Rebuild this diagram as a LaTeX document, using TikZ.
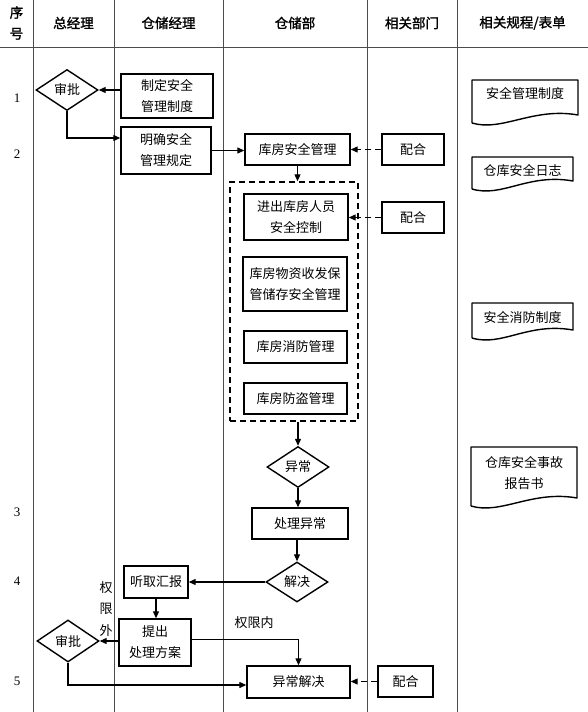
\documentclass[tikz,border=0pt]{standalone}
\usepackage{fontspec}
\setmainfont{Noto Sans CJK SC}
\newfontfamily\headfont[FakeBold=1.5]{Noto Sans CJK SC}
\newfontfamily\numfont{Liberation Serif}
\usetikzlibrary{shapes.geometric,arrows.meta,calc}

\begin{document}
\begin{tikzpicture}[x=1pt,y=-1pt,
	box/.style={draw, line width=1.4pt, align=center, inner sep=0pt, font=\fontsize{13}{21}\selectfont},
	dia/.style={draw, diamond, line width=1.4pt, inner sep=0pt, minimum width=62, minimum height=41, font=\fontsize{13}{15}\selectfont},
	arr/.style={line width=1.2pt, -{Triangle[length=7pt,width=6pt]}},
	darr/.style={arr, dash pattern=on 6pt off 4pt},
	col/.style={line width=0.8pt, black!70},
	head/.style={font=\headfont\fontsize{13.5}{21}\selectfont, align=center},
	lbl/.style={font=\fontsize{13}{21.5}\selectfont, align=center}]
					\useasboundingbox (0,0) rectangle (588,712);
					%columns
					\foreach \x in {33,114,223,367,457}
						\draw [col] (\x,0) -- (\x,712);
					\draw [col] (0,47) -- (588,47);
					
					%head
					\node [head] (hnum) at (16.5,23) {序\\号};
					\node [head] (hzjl) at (73.5,23) {总经理};
					\node [head] (hccjl) at (168.5,23) {仓储经理};
					\node [head] (hccb) at (295,23) {仓储部};
					\node [head] (hxgbm) at (412,23) {相关部门};
					\node [head] (hgc) at (522.5,23) {相关规程/表单};
					
					%row numbers
					\foreach \n/\y in {1/98,2/154,3/512,4/581,5/681}
						\node [font=\numfont\fontsize{13}{15}\selectfont] (r\n) at (17,\y) {\n};
					
					%1-2
					\node [dia] (shenpi1) at (67,90) {审批};
					\node [box, minimum width=92, minimum height=44] (zhiding) at (167,96) {制定安全\\管理制度};
					\node [box, minimum width=90, minimum height=47] (mingque) at (166,150.5) {明确安全\\管理规定};
					\node [box, minimum width=105, minimum height=31] (kufang) at (297.5,149.5) {库房安全管理};
					\node [box, minimum width=62, minimum height=31] (peihe1) at (413,149.5) {配合};
					
					%group
					\node [draw, dash pattern=on 6pt off 4pt, line width=1.5pt, minimum width=128, minimum height=239] (group) at (294,301.5) {};
					\node [box, minimum width=104, minimum height=46] (jinchu) at (296,217) {进出库房人员\\安全控制};
					\node [box, minimum width=62, minimum height=31] (peihe2) at (413,217.5) {配合};
					\node [box, minimum width=104, minimum height=54] (wuzi) at (295,284) {库房物资收发保\\管储存安全管理};
					\node [box, minimum width=103, minimum height=32] (xiaofang) at (295.5,347) {库房消防管理};
					\node [box, minimum width=103, minimum height=31] (fangdao) at (295.5,398.5) {库房防盗管理};
					
					%3-5
					\node [dia] (yichang) at (298,467) {异常};
					\node [box, minimum width=96, minimum height=31] (chuli) at (300,523.5) {处理异常};
					\node [dia, minimum height=40] (jiejue) at (297,582) {解决};
					\node [box, minimum width=64, minimum height=32] (tingqu) at (156,582) {听取汇报};
					\node [box, minimum width=72, minimum height=47] (tichu) at (155,642.5) {提出\\处理方案};
					\node [dia, minimum height=42] (shenpi2) at (68,641) {审批};
					\node [box, minimum width=103, minimum height=32] (yjjj) at (298.5,682) {异常解决};
					\node [box, minimum width=55, minimum height=31] (peihe3) at (405.5,681.5) {配合};
					
					%labels
					\node [lbl] (waix) at (106,609) {权\\限\\外};
					\node [lbl] (neix) at (254,623) {权限内};
					
					%arrows
					\draw [arr] (zhiding.west |- shenpi1.east) -- (shenpi1.east);
					\draw [arr] (shenpi1.south) |- ($(mingque.west)+(0,-12.5)$);
					\draw [arr] (mingque.east) -- (mingque.east -| kufang.west);
					\draw [darr] (peihe1.west) -- (kufang.east);
					\draw [arr] (kufang.south) -- (kufang.south |- group.north);
					\draw [darr] (peihe2.west) -- (peihe2.west -| jinchu.east);
					\draw [arr] (yichang.north |- group.south) -- (yichang.north);
					\draw [arr] (yichang.south) -- (yichang.south |- chuli.north);
					\draw [arr] (chuli.south -| jiejue.north) -- (jiejue.north);
					\draw [arr] (jiejue.west) -- (jiejue.west -| tingqu.east);
					\draw [arr] (tingqu.south) -- (tingqu.south |- tichu.north);
					\draw [arr] (tichu.west |- shenpi2.east) -- (shenpi2.east);
					\draw [arr] ($(tichu.east)+(0,-3)$) -| (yjjj.north);
					\draw [arr] (shenpi2.south) |- ($(yjjj.west)+(0,3)$);
					\draw [darr] (peihe3.west) -- (peihe3.west -| yjjj.east);
					
					%documents
					\foreach \xa/\ya/\xb/\yb in {472/80/578/123, 472/157/573/189, 472/303/573/338, 471/447/577/506}
						\draw [line width=1.4pt, line join=round] (\xa,\yb) -- (\xa,\ya) -- (\xb,\ya) -- (\xb,\yb-8)
							.. controls (\xb-45,\yb-16) and (\xa+30,\yb+9) .. (\xa,\yb);
					\node [lbl] (doc1) at (525,93) {安全管理制度};
					\node [lbl] (doc2) at (522.5,171) {仓库安全日志};
					\node [lbl] (doc3) at (522.5,317) {安全消防制度};
					\node [lbl] (doc4) at (524,473) {仓库安全事故\\报告书};
				\end{tikzpicture}
\end{document}
